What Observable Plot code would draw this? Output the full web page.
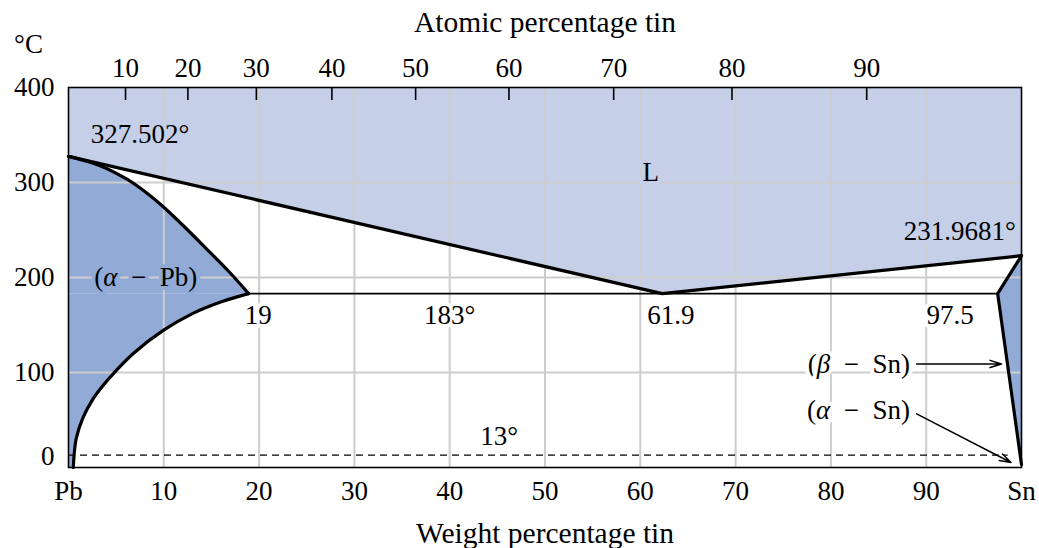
<!DOCTYPE html>
<html>
<head>
<meta charset="utf-8">
<script src="https://cdn.jsdelivr.net/npm/d3@7"></script>
<script src="https://cdn.jsdelivr.net/npm/@observablehq/plot@0.6"></script>
<style>
  html, body { margin: 0; padding: 0; background: #fff; }
  #chart svg, #chart svg text, #chart svg g { font-family: "Liberation Serif", "Times New Roman", serif !important; }
</style>
</head>
<body>
<div id="chart"></div>
<script>
// ---- data (weight % Sn, temperature °C) ----
const liquidusW = [0, 62.3, 100];
const liquidusT = [327.5, 183, 223];

const solidusPbW = [0, 3.25, 6.04, 8.14, 9.88, 12.0, 14.4, 16.9, 18.9];
const solidusPbT = [327.5, 318, 304, 289.5, 275, 255, 231, 205.5, 183];

const solvusPbW = [18.9, 16.2, 13.0, 9.9, 6.8, 5.0, 3.6, 2.5, 1.5, 0.8, 0.5];
const solvusPbT = [183, 175, 162, 144, 120, 102, 86, 71, 52, 30, 0];

const snBoundaryW = [100, 97.5, 100];
const snBoundaryT = [223, 183, 3];

const eutecticT = 183;
const eutecticW = [18.9, 97.5];
const transitionT = 13;
const transitionW = [0, 98.6];

const weightTicks = [0, 10, 20, 30, 40, 50, 60, 70, 80, 90, 100];
const gridW = [10, 20, 30, 40, 50, 60, 70, 80, 90];
const gridT = [100, 200, 300];
const tempTicks = [100, 200, 300, 400];
const atomicTicks = [10, 20, 30, 40, 50, 60, 70, 80, 90];

// atomic % Sn -> weight % Sn
const MASS_SN = 118.71, MASS_PB = 207.2;
const atomicToWeight = a => 100 * a * MASS_SN / (a * MASS_SN + (100 - a) * MASS_PB);
const atomicPos = atomicTicks.map(atomicToWeight);
const atomicLabel = new Map(atomicPos.map((p, i) => [p, String(atomicTicks[i])]));

const LIGHT = "#c5cfe8";
const DARK = "#91abd6";
const GRID = "#cdcdcd";
const FS = 27;
const SERIF = "Liberation Serif";
const SP = "\u2002"; // math-style spacing around the minus sign

const zipXY = (xs, ys) => xs.map((x, i) => ({x, y: ys[i]}));
const halo = (color, w = 8) => ({fill: "black", stroke: color, strokeWidth: w, paintOrder: "stroke", fontSize: FS, fontFamily: SERIF});

const chart = Plot.plot({
  width: 1039,
  height: 548,
  marginLeft: 68,
  marginRight: 18,
  marginTop: 87,
  marginBottom: 81,
  style: {fontFamily: SERIF, fontSize: FS + "px", background: "#fff", overflow: "visible"},
  x: {domain: [0, 100], label: null, axis: null},
  y: {domain: [0, 400], label: null, axis: null},
  marks: [
    // phase fills
    Plot.areaY(zipXY(liquidusW, liquidusT), {x: "x", y1: "y", y2: 400, fill: LIGHT}),
    Plot.areaX(zipXY(solidusPbW, solidusPbT), {y: "y", x1: 0, x2: "x", fill: DARK, curve: "catmull-rom"}),
    Plot.areaX(zipXY(solvusPbW, solvusPbT), {y: "y", x1: 0, x2: "x", fill: DARK, curve: "catmull-rom"}),
    Plot.areaX(zipXY(snBoundaryW, snBoundaryT), {y: "y", x1: "x", x2: 100, fill: DARK}),

    // grid
    Plot.ruleX(gridW, {stroke: GRID, strokeWidth: 2}),
    Plot.ruleY(gridT, {stroke: GRID, strokeWidth: 2}),

    // labels with halos (break the grid)
    Plot.text(["327.502°"], {x: 7.5, y: 351, ...halo(LIGHT)}),
    Plot.text(["L"], {x: 61.1, y: 311, ...halo(LIGHT)}),
    Plot.text(["231.9681°"], {x: 99.4, y: 249, textAnchor: "end", ...halo(LIGHT)}),
    Plot.text([`(α${SP}−${SP}Pb)`], {x: 8.1, y: 200, ...halo(DARK)}),
    Plot.text(["19"], {x: 19.9, y: 160, ...halo("white")}),
    Plot.text(["183°"], {x: 40, y: 160, ...halo("white")}),
    Plot.text(["61.9"], {x: 63.2, y: 160, ...halo("white")}),
    Plot.text(["97.5"], {x: 95, y: 160, textAnchor: "end", ...halo("white")}),
    Plot.text([`(β${SP}−${SP}Sn)`], {x: 88.3, y: 109, textAnchor: "end", ...halo("white")}),
    Plot.text([`(α${SP}−${SP}Sn)`], {x: 88.3, y: 60.5, textAnchor: "end", ...halo("white")}),
    Plot.text(["13°"], {x: 45.2, y: 32.5, ...halo("white", 6)}),

    // phase boundaries
    Plot.line(zipXY(liquidusW, liquidusT), {x: "x", y: "y", stroke: "black", strokeWidth: 3.2}),
    Plot.line(zipXY(solidusPbW, solidusPbT), {x: "x", y: "y", stroke: "black", strokeWidth: 3.2, curve: "catmull-rom"}),
    Plot.line(zipXY(solvusPbW, solvusPbT), {x: "x", y: "y", stroke: "black", strokeWidth: 3.2, curve: "catmull-rom"}),
    Plot.line(zipXY(snBoundaryW, snBoundaryT), {x: "x", y: "y", stroke: "black", strokeWidth: 3.2}),
    Plot.ruleY([eutecticT], {x1: eutecticW[0], x2: eutecticW[1], stroke: "black", strokeWidth: 1.6}),
    Plot.ruleY([transitionT], {x1: transitionW[0], x2: transitionW[1], stroke: "black", strokeWidth: 1.4, strokeDasharray: "7,5"}),

    // arrows
    Plot.arrow([0], {x1: 89.0, y1: 109, x2: 97.9, y2: 109, stroke: "black", strokeWidth: 1.5, headLength: 12, headAngle: 35}),
    Plot.arrow([0], {x1: 89.0, y1: 56.5, x2: 98.9, y2: 5.3, stroke: "black", strokeWidth: 1.5, headLength: 12, headAngle: 35}),

    // top (atomic %) ticks, pointing inward
    Plot.ruleX(atomicPos, {stroke: "black", strokeWidth: 1.6, insetBottom: 380 - 13}),

    // frame
    Plot.frame({stroke: "black", strokeWidth: 1.6}),

    // axes
    Plot.axisX(weightTicks, {anchor: "bottom", tickSize: 0, tickPadding: 13, fontSize: FS, fontFamily: SERIF, label: null,
      tickFormat: d => d === 0 ? "Pb" : d === 100 ? "Sn" : String(d)}),
    Plot.axisX(atomicPos, {anchor: "top", tickSize: 0, tickPadding: 11, fontSize: FS, fontFamily: SERIF, label: null,
      tickFormat: d => atomicLabel.get(d)}),
    Plot.axisY(tempTicks, {tickSize: 0, tickPadding: 14, fontSize: FS, fontFamily: SERIF, label: null, tickFormat: d => String(d)}),
    Plot.text(["0"], {x: 0, y: 0, dx: -14, dy: -11, textAnchor: "end", fontSize: FS, fontFamily: SERIF}),

    // titles
    Plot.text(["°C"], {frameAnchor: "top-left", dx: -40, dy: -43, textAnchor: "middle", lineAnchor: "middle", fontSize: FS, fontFamily: SERIF}),
    Plot.text(["Atomic percentage tin"], {frameAnchor: "top", dy: -65, lineAnchor: "middle", fontSize: 29.5, fontFamily: SERIF}),
    Plot.text(["Weight percentage tin"], {frameAnchor: "bottom", dy: 66, lineAnchor: "middle", fontSize: 29.5, fontFamily: SERIF})
  ]
});

// italicise Greek letters (math style) while keeping real text
d3.select(chart).selectAll("text").each(function () {
  const t = this.textContent;
  if (!/[αβ]/.test(t) || this.children.length) return;
  const sel = d3.select(this);
  sel.text(null);
  for (const part of t.split(/([αβ])/)) {
    if (!part) continue;
    const ts = sel.append("tspan").text(part);
    if (/[αβ]/.test(part)) ts.attr("font-style", "italic");
  }
});

document.getElementById("chart").appendChild(chart);
</script>
</body>
</html>
